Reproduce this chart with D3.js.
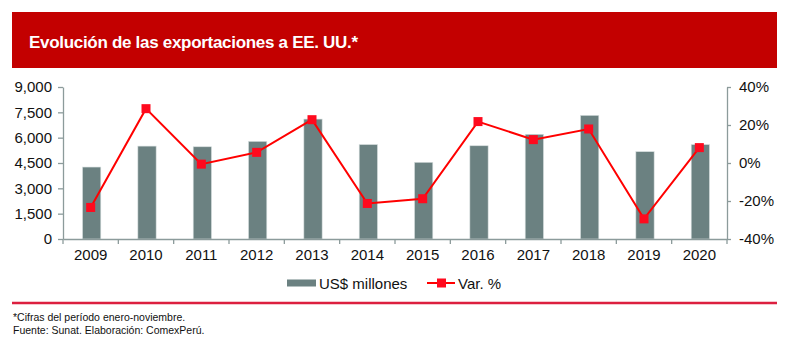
<!DOCTYPE html>
<html>
<head>
<meta charset="utf-8">
<script src="https://cdn.jsdelivr.net/npm/d3@7"></script>
<style>
  body { margin: 0; background: #fff; }
  svg { display: block; font-family: "Liberation Sans", Arial, sans-serif; }
</style>
</head>
<body>
<script>
// Data
var years = ["2009", "2010", "2011", "2012", "2013", "2014",
             "2015", "2016", "2017", "2018", "2019", "2020"];
var exports_usd = [4260, 5500, 5460, 5780, 7100, 5590,
                   4540, 5520, 6200, 7320, 5170, 5590];
var var_pct = [-23.4, 28.6, -0.6, 5.6, 22.8, -21.3,
               -18.8, 21.8, 12.3, 17.9, -29.4, 8.1];
var left_ticks = [0, 1500, 3000, 4500, 6000, 7500, 9000];
var right_ticks = [-40, -20, 0, 20, 40];

var title = "Evolución de las exportaciones a EE. UU.*";
var notes = ["*Cifras del período enero-noviembre.",
             "Fuente: Sunat. Elaboración: ComexPerú."];

var width = 789, height = 348;
var plot = {left: 63, right: 727, top: 87, bottom: 239};
var colors = {bar: "#6b8181", line: "#ff0000", marker: "#ff0a1e",
              axis: "#8c9b9b", header: "#c30000", rule: "#dc1f3f"};

var svg = d3.select("body").append("svg")
        .attr("width", width)
        .attr("height", height);

// Header band
svg.append("rect")
        .attr("x", 12).attr("y", 12)
        .attr("width", 765).attr("height", 56)
        .style("fill", colors.header);
svg.append("text")
        .attr("x", 29).attr("y", 48)
        .style("fill", "#fff")
        .style("font-weight", "bold")
        .style("font-size", "17px")
        .style("letter-spacing", "-0.3px")
        .text(title);

// Scales
var x = d3.scaleBand().domain(years).range([plot.left, plot.right]);
var y_left = d3.scaleLinear().domain([0, 9000]).range([plot.bottom, plot.top]);
var y_right = d3.scaleLinear().domain([-40, 40]).range([plot.bottom, plot.top]);
var bar_w = x.bandwidth() * 0.33;

// Bars
svg.append("g").attr("class", "bars")
        .selectAll("rect")
        .data(exports_usd).enter()
    .append("rect")
        .attr("x", function(d, i) { return x(years[i]) + x.bandwidth() / 2 - bar_w / 2 + 1; })
        .attr("y", function(d) { return y_left(d); })
        .attr("width", bar_w)
        .attr("height", function(d) { return y_left(0) - y_left(d); })
        .style("fill", colors.bar)
        .style("stroke", "#d5dddd")
        .style("stroke-width", 0.6);

// Left axis
var axis_left = svg.append("g")
        .attr("transform", "translate(" + plot.left + ",0)")
        .call(d3.axisLeft(y_left).tickValues(left_ticks)
            .tickFormat(d3.format(",")).tickSize(5).tickSizeOuter(0).tickPadding(6));

// Right axis
var axis_right = svg.append("g")
        .attr("transform", "translate(" + plot.right + ",0)")
        .call(d3.axisRight(y_right).tickValues(right_ticks)
            .tickFormat(function(d) { return (d < 0 ? "-" + (-d) : d) + "%"; })
            .tickSize(4).tickSizeOuter(0).tickPadding(8));

// Bottom axis: labels centred, ticks on band edges
var axis_bottom = svg.append("g")
        .attr("transform", "translate(0," + plot.bottom + ")")
        .call(d3.axisBottom(x).tickSize(0).tickPadding(10));
var edges = years.map(function(d) { return x(d); }).concat([plot.right]);
axis_bottom.selectAll(".edge")
        .data(edges).enter()
    .append("line")
        .attr("class", "edge")
        .attr("x1", function(d) { return d; })
        .attr("x2", function(d) { return d; })
        .attr("y1", 0).attr("y2", 5);

[axis_left, axis_right, axis_bottom].forEach(function(g) {
    g.selectAll("path, line").style("stroke", colors.axis).style("stroke-width", 1.3);
    g.selectAll("text").style("fill", "#111").style("font-size", "15px")
        .style("font-family", "'Liberation Sans', Arial, sans-serif");
});

// Variation line
var line = d3.line()
        .x(function(d, i) { return x(years[i]) + x.bandwidth() / 2; })
        .y(function(d) { return y_right(d); });
svg.append("path")
        .datum(var_pct)
        .attr("d", line)
        .style("fill", "none")
        .style("stroke", colors.line)
        .style("stroke-width", 2);
svg.append("g").attr("class", "markers")
        .selectAll("rect")
        .data(var_pct).enter()
    .append("rect")
        .attr("x", function(d, i) { return x(years[i]) + x.bandwidth() / 2 - 4.5; })
        .attr("y", function(d) { return y_right(d) - 4.5; })
        .attr("width", 9).attr("height", 9)
        .style("fill", colors.marker);

// Legend
var legend = svg.append("g").attr("transform", "translate(0,283)");
legend.append("rect")
        .attr("x", 287).attr("y", -3.5)
        .attr("width", 29).attr("height", 7)
        .style("fill", colors.bar);
legend.append("text")
        .attr("x", 319).attr("y", 5.5)
        .style("font-size", "15px").style("fill", "#111")
        .text("US$ millones");
legend.append("line")
        .attr("x1", 427).attr("x2", 455)
        .style("stroke", colors.line).style("stroke-width", 2);
legend.append("rect")
        .attr("x", 437).attr("y", -4.5)
        .attr("width", 9).attr("height", 9)
        .style("fill", colors.marker);
legend.append("text")
        .attr("x", 458).attr("y", 5.5)
        .style("font-size", "15px").style("fill", "#111")
        .text("Var. %");

// Footer rule and notes
svg.append("line")
        .attr("x1", 12).attr("x2", 777)
        .attr("y1", 303).attr("y2", 303)
        .style("stroke", colors.rule).style("stroke-width", 2.5);
svg.append("g").selectAll("text")
        .data(notes).enter()
    .append("text")
        .attr("x", 13)
        .attr("y", function(d, i) { return 321 + i * 13; })
        .style("font-family", "'Liberation Sans Narrow', 'Arial Narrow', 'Liberation Sans', sans-serif")
        .style("font-size", "10.5px")
        .style("fill", "#111")
        .text(function(d) { return d; });
</script>
</body>
</html>
